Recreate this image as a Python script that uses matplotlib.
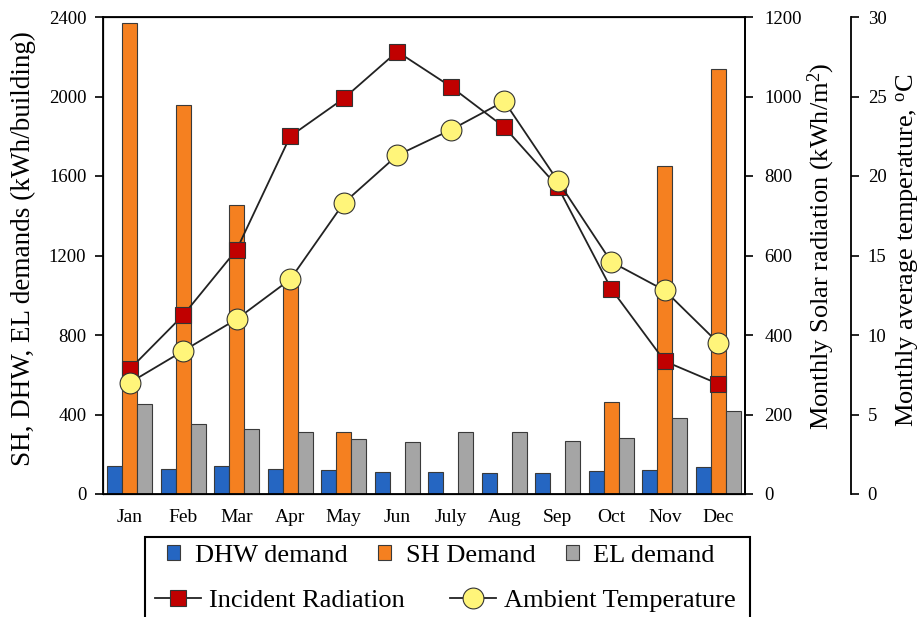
import matplotlib
matplotlib.use("Agg")
import matplotlib.pyplot as plt
import numpy as np
from matplotlib.patches import Rectangle, Patch
from matplotlib.lines import Line2D

months = ["Jan", "Feb", "Mar", "Apr", "May", "Jun", "July", "Aug", "Sep", "Oct", "Nov", "Dec"]
dhw = [141, 127, 141, 127, 122, 111, 109, 106, 106, 117, 122, 136]
sh = [2371, 1957, 1454, 1062, 312, 0, 0, 0, 0, 461, 1650, 2138]
el = [454, 354, 327, 314, 277, 263, 310, 310, 267, 282, 381, 416]
radiation = [314, 450, 615, 900, 995, 1113, 1025, 923, 773, 516, 334, 277]
temperature = [7.0, 9.0, 11.0, 13.5, 18.3, 21.3, 22.9, 24.7, 19.7, 14.6, 12.8, 9.5]

plt.rcParams['font.family'] = ['Liberation Serif', 'DejaVu Serif']
plt.rcParams['mathtext.fontset'] = 'custom'
plt.rcParams['mathtext.rm'] = 'Liberation Serif'
plt.rcParams['mathtext.it'] = 'Liberation Serif:italic'

c_blue = '#2566C2'
c_orange = '#F58020'
c_grey = '#A5A5A5'
c_red = '#C00000'
c_yellow = '#FFF57A'
edge = '#3A3A3A'

fig = plt.figure(figsize=(9.2, 6.17), dpi=100)
ax = fig.add_axes([103/920, 1-494/617, (745-103)/920, (494-17)/617])
x = np.arange(len(months))
w = 0.28
ax.bar(x - w, dhw, w, color=c_blue, edgecolor=edge, linewidth=0.8, zorder=2)
ax.bar(x, sh, w, color=c_orange, edgecolor=edge, linewidth=0.8, zorder=2)
ax.bar(x + w, el, w, color=c_grey, edgecolor=edge, linewidth=0.8, zorder=2)
ax.set_xlim(-0.5, 11.5)
ax.set_ylim(0, 2400)
ax.set_yticks([0, 400, 800, 1200, 1600, 2000, 2400])
ax.set_xticks(x)
ax.set_xticklabels(months, fontsize=14)
ax.tick_params(axis='x', length=0, pad=11)
ax.tick_params(axis='y', labelsize=13.5, length=6, width=1.2, direction='out', pad=6)
ax.set_ylabel("SH, DHW, EL demands (kWh/building)", fontsize=19.5)
ax.yaxis.set_label_coords(-0.104, 0.515)
for s in ['left', 'bottom', 'top', 'right']:
    ax.spines[s].set_linewidth(1.3)

ax2 = ax.twinx()
ax2.plot(x, radiation, color='#222222', linewidth=1.3, marker='s', markersize=12,
         markerfacecolor=c_red, markeredgecolor='#333333', markeredgewidth=0.8, zorder=3)
ax2.set_ylim(0, 1200)
ax2.set_yticks([0, 200, 400, 600, 800, 1000, 1200])
ax2.tick_params(axis='y', labelsize=13.5, length=6, width=1.2, pad=8)
ax2.set_ylabel("Monthly Solar radiation (kWh/m$^2$)", fontsize=19)
ax2.yaxis.set_label_coords((806-103)/642, 0.52)
ax2.spines['right'].set_linewidth(1.3)

ax3 = ax.twinx()
ax3.spines['right'].set_position(('axes', (851-103)/642))
ax3.spines['right'].set_linewidth(1.3)
ax3.plot(x, temperature, color='#222222', linewidth=1.3, marker='o', markersize=15,
         markerfacecolor=c_yellow, markeredgecolor='#333333', markeredgewidth=0.8, zorder=4)
ax3.set_ylim(0, 30)
ax3.set_yticks([0, 5, 10, 15, 20, 25, 30])
ax3.tick_params(axis='y', labelsize=13.5, length=6, width=1.2, pad=6)
ax3.set_ylabel("Monthly average temperature, $^{\\rm o}$C", fontsize=19)
ax3.yaxis.set_label_coords((894-103)/642, 0.51)

# legend frame
fig.patches.append(Rectangle((145/920, -0.05), (750-145)/920, 0.05 + (617-537)/617,
                             transform=fig.transFigure, fill=False, edgecolor='black',
                             linewidth=1.5, figure=fig))

h1 = [Patch(facecolor=c_blue, edgecolor=edge, linewidth=0.8),
      Patch(facecolor=c_orange, edgecolor=edge, linewidth=0.8),
      Patch(facecolor=c_grey, edgecolor=edge, linewidth=0.8)]
fig.legend(h1, ["DHW demand", "SH Demand", "EL demand"], loc='center left',
           bbox_to_anchor=(167/920, (617-556)/617), ncol=3, frameon=False, fontsize=19,
           handlelength=0.5, handleheight=0.5, handletextpad=0.55, columnspacing=1.15,
           borderpad=0, borderaxespad=0)
h2 = [Line2D([], [], color='#222222', linewidth=1.3, marker='s', markersize=12,
             markerfacecolor=c_red, markeredgecolor='#333333', markeredgewidth=0.8),
      Line2D([], [], color='#222222', linewidth=1.3, marker='o', markersize=15,
             markerfacecolor=c_yellow, markeredgecolor='#333333', markeredgewidth=0.8)]
fig.legend(h2, ["Incident Radiation", "Ambient Temperature"], loc='center left',
           bbox_to_anchor=(155/920, (617-600)/617), ncol=2, frameon=False, fontsize=19,
           handlelength=1.75, handletextpad=0.3, columnspacing=1.7,
           borderpad=0, borderaxespad=0)

fig.savefig("out.png", dpi=100)
